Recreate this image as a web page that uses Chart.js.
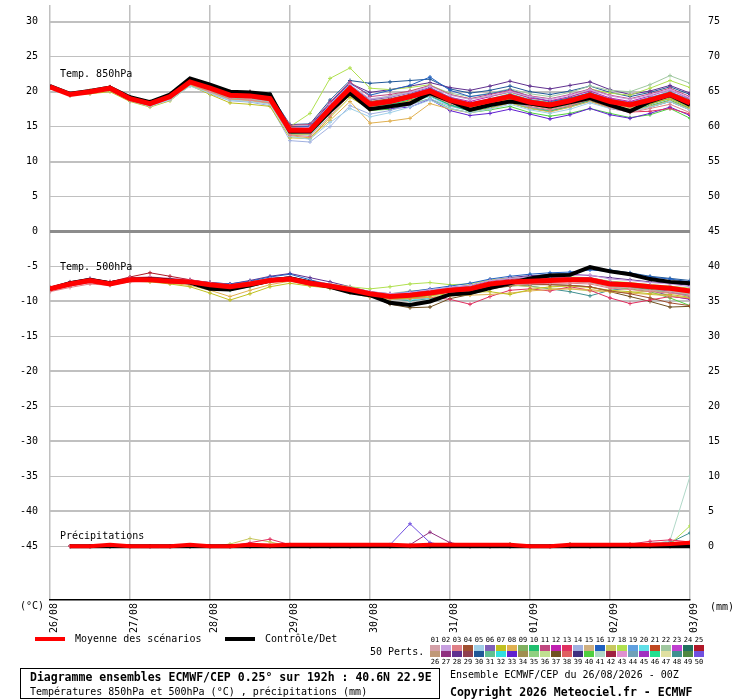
<!DOCTYPE html>
<html>
<head>
<meta charset="utf-8">
<title>Diagramme ensembles ECMWF/CEP</title>
<script src="https://cdn.jsdelivr.net/npm/chart.js@4.4.1/dist/chart.umd.min.js"></script>
<style>
    body { margin: 0; background: #fff; }
    #wrap { position: relative; width: 740px; height: 700px; font-family: "DejaVu Sans Mono", monospace; color: #000; }
    #ens { position: absolute; left: 0; top: 0; }
    .t { position: absolute; white-space: nowrap; font-size: 10px; line-height: 10px; }
    .b { font-weight: bold; font-size: 11.5px; line-height: 12px; }
    .bar { position: absolute; height: 4px; width: 30px; }
    .sw { position: absolute; width: 10px; height: 6px; }
    .num { position: absolute; width: 11px; text-align: center; font-size: 7px; line-height: 7px; }
    #box { position: absolute; left: 20px; top: 668px; width: 418px; height: 29px; border: 1.5px solid #000; }
</style>
</head>
<body>
<div id="wrap">
    <canvas id="ens" width="740" height="634"></canvas>
    <div class="t" style="left:60px;top:69px">Temp. 850hPa</div>
    <div class="t" style="left:60px;top:262px">Temp. 500hPa</div>
    <div class="t" style="left:60px;top:531px">Précipitations</div>
    <div class="t" style="left:20px;top:601px">(°C)</div>
    <div class="t" style="left:710px;top:602px">(mm)</div>

    <div class="bar" style="left:35px;top:637px;background:#ff0000"></div>
    <div class="t" style="left:75px;top:634px">Moyenne des scénarios</div>
    <div class="bar" style="left:225px;top:637px;background:#000"></div>
    <div class="t" style="left:265px;top:634px">Contrôle/Det</div>
    <div class="t" style="left:370px;top:647px">50 Perts.</div>
    <div id="swatches"></div>

    <div id="box"></div>
    <div class="t b" style="left:30px;top:671px">Diagramme ensembles ECMWF/CEP 0.25° sur 192h : 40.6N 22.9E</div>
    <div class="t" style="left:30px;top:687px">Températures 850hPa et 500hPa (°C) , précipitations (mm)</div>
    <div class="t" style="left:450px;top:670px">Ensemble ECMWF/CEP du 26/08/2026 - 00Z</div>
    <div class="t b" style="left:450px;top:686px">Copyright 2026 Meteociel.fr - ECMWF</div>
</div>
<script>
// Time axis (hours from run start) and day labels
const hours = [0, 6, 12, 18, 24, 30, 36, 42, 48, 54, 60, 66, 72, 78, 84, 90, 96, 102, 108, 114, 120, 126, 132, 138, 144, 150, 156, 162, 168, 174, 180, 186, 192];
const dayHours = [0, 24, 48, 72, 96, 120, 144, 168, 192];
const dateLabels = ['26/08', '27/08', '28/08', '29/08', '30/08', '31/08', '01/09', '02/09', '03/09'];
const tempTicks = [30, 25, 20, 15, 10, 5, 0, -5, -10, -15, -20, -25, -30, -35, -40, -45];
const rainTicks = [75, 70, 65, 60, 55, 50, 45, 40, 35, 30, 25, 20, 15, 10, 5, 0];

// Member colours 01..50
const memberColors = [
    '#d4a0a8', '#c8a0e0', '#e08088', '#a05030', '#a0d0e8', '#8060b8', '#c0c020', '#e0b050', '#80b060', '#20c070',
    '#c04880', '#c020b0', '#e03060', '#a0b0e0', '#d0b080', '#2060c0', '#c8c860', '#b0e050', '#60a0e0', '#60e0e8',
    '#c04820', '#a0c8a0', '#c040d0', '#207060', '#b01828', '#c09878', '#903080', '#603090', '#904050', '#205898',
    '#60c090', '#30e0e0', '#6020d0', '#a09050', '#90d080', '#c0e090', '#705020', '#e06060', '#403080', '#50d040',
    '#b0d8c8', '#a02040', '#e090d0', '#70a0b8', '#a030c0', '#20e090', '#e0e0a0', '#409090', '#508840', '#7050e0'
];

// Temp 850hPa (°C)
const t850Mean = [20.7, 19.6, 20.0, 20.5, 19.0, 18.3, 19.3, 21.4, 20.5, 19.5, 19.4, 19.0, 14.5, 14.5, 17.6, 20.5, 18.2, 18.6, 19.3, 20.1, 18.8, 18.1, 18.7, 19.3, 18.5, 18.1, 18.7, 19.5, 18.6, 18.1, 18.8, 19.6, 18.4];
const t850Control = [20.8, 19.7, 20.1, 20.6, 19.2, 18.5, 19.6, 21.9, 21.0, 20.0, 19.9, 19.6, 14.3, 14.3, 17.2, 19.8, 17.5, 17.9, 18.3, 19.8, 18.7, 17.4, 18.1, 18.6, 18.3, 17.9, 18.5, 19.1, 18.1, 17.2, 18.6, 19.5, 18.1];
const t850MemberIds = [1, 2, 3, 4, 5, 6, 7, 8, 9, 10, 11, 12, 13, 14, 15, 16, 17, 18, 19, 20, 21, 22, 23, 24, 25, 28, 30, 33, 40];
const t850Members = [
    [20.6, 19.6, 19.9, 20.4, 18.9, 18.2, 19.1, 21.2, 20.2, 19.2, 19.0, 18.6, 14.2, 14.0, 17.0, 20.0, 18.0, 18.5, 19.2, 20.0, 18.7, 18.0, 18.5, 19.1, 18.2, 17.8, 18.4, 19.2, 18.3, 17.8, 18.5, 19.3, 18.0],
    [20.7, 19.7, 20.1, 20.6, 19.1, 18.4, 19.4, 21.5, 20.7, 19.8, 19.7, 19.3, 14.8, 14.9, 18.2, 21.0, 19.0, 19.3, 19.9, 20.8, 19.5, 18.9, 19.4, 20.0, 19.3, 18.9, 19.5, 20.3, 19.4, 18.9, 19.5, 20.3, 19.1],
    [20.8, 19.6, 20.0, 20.4, 18.8, 18.0, 19.0, 21.1, 20.0, 19.0, 18.8, 18.4, 13.8, 13.6, 16.5, 19.6, 17.4, 17.8, 18.6, 19.5, 18.3, 17.6, 18.1, 18.7, 17.9, 17.4, 18.0, 18.9, 17.8, 17.0, 17.6, 18.2, 17.0],
    [20.6, 19.5, 20.1, 20.7, 19.2, 18.6, 19.6, 21.7, 20.9, 20.0, 20.0, 19.6, 15.0, 14.8, 17.8, 20.8, 18.6, 19.0, 19.6, 20.3, 19.0, 18.3, 18.9, 19.6, 18.8, 18.4, 19.0, 19.8, 18.9, 18.4, 19.1, 19.9, 18.8],
    [20.6, 19.5, 19.8, 20.2, 18.7, 17.9, 18.8, 20.8, 19.8, 18.8, 18.6, 18.2, 13.6, 13.2, 15.6, 17.6, 16.4, 17.0, 17.8, 18.8, 17.6, 17.0, 17.5, 18.2, 17.4, 16.9, 17.5, 18.4, 17.6, 17.1, 17.8, 18.6, 17.4],
    [20.7, 19.6, 20.0, 20.5, 19.0, 18.3, 19.3, 21.4, 20.4, 19.4, 19.2, 18.8, 14.4, 14.6, 18.0, 20.9, 18.8, 19.2, 19.8, 20.6, 19.2, 18.4, 18.9, 19.5, 18.7, 18.2, 18.8, 19.6, 18.5, 17.9, 18.6, 19.4, 18.2],
    [20.6, 19.5, 19.7, 20.0, 18.6, 17.8, 18.7, 20.9, 19.6, 18.4, 18.2, 17.9, 13.4, 13.3, 16.3, 19.2, 17.5, 17.9, 18.7, 19.6, 18.4, 17.8, 18.3, 19.0, 18.2, 17.8, 18.4, 19.2, 18.3, 17.7, 18.3, 19.0, 17.7],
    [20.6, 19.5, 19.8, 20.2, 18.8, 18.1, 19.0, 21.0, 19.9, 18.9, 18.7, 18.3, 13.7, 13.4, 15.9, 18.6, 15.5, 15.8, 16.2, 18.3, 17.5, 17.0, 17.6, 18.4, 17.6, 17.1, 17.8, 18.6, 17.7, 17.2, 17.9, 18.7, 17.5],
    [20.7, 19.6, 20.1, 20.6, 19.1, 18.4, 19.4, 21.5, 20.6, 19.6, 19.5, 19.1, 14.6, 14.4, 17.4, 20.2, 18.3, 18.7, 19.3, 20.0, 18.6, 17.9, 18.4, 19.0, 18.1, 17.6, 18.2, 19.0, 18.0, 17.5, 18.2, 19.1, 17.9],
    [20.7, 19.6, 20.0, 20.4, 18.9, 18.2, 19.2, 21.3, 20.3, 19.3, 19.1, 18.7, 14.2, 14.1, 17.2, 20.3, 17.9, 18.2, 18.8, 19.5, 18.1, 17.2, 17.7, 18.4, 17.6, 17.2, 17.9, 18.8, 17.9, 17.4, 18.0, 18.8, 17.6],
    [20.8, 19.7, 20.1, 20.5, 19.0, 18.4, 19.4, 21.5, 20.8, 19.9, 19.9, 19.5, 15.2, 15.3, 18.5, 21.4, 19.3, 19.6, 20.1, 20.9, 19.6, 19.0, 19.6, 20.2, 19.4, 19.0, 19.6, 20.4, 19.5, 19.0, 19.7, 20.5, 19.3],
    [20.7, 19.6, 20.0, 20.6, 19.1, 18.5, 19.5, 21.6, 20.6, 19.7, 19.6, 19.2, 14.7, 14.7, 17.9, 20.7, 18.5, 18.9, 19.6, 20.5, 19.2, 18.6, 19.3, 20.0, 19.1, 18.7, 19.3, 20.1, 19.1, 18.6, 19.4, 20.3, 19.0],
    [20.7, 19.6, 19.9, 20.3, 18.9, 18.2, 19.2, 21.2, 20.3, 19.3, 19.2, 18.8, 14.3, 14.2, 17.3, 20.1, 17.9, 18.3, 19.0, 19.7, 18.4, 17.7, 18.3, 18.9, 18.1, 17.6, 18.2, 18.8, 17.6, 17.1, 17.2, 17.6, 16.8],
    [20.6, 19.5, 19.8, 20.2, 18.7, 18.0, 18.9, 20.9, 19.7, 18.7, 18.5, 18.0, 13.0, 12.8, 15.0, 18.0, 16.8, 17.3, 18.1, 19.0, 17.9, 17.3, 17.9, 18.6, 17.8, 17.4, 18.0, 18.9, 18.0, 17.5, 18.2, 19.0, 17.8],
    [20.6, 19.6, 20.0, 20.5, 19.0, 18.3, 19.2, 21.3, 20.4, 19.4, 19.3, 18.9, 14.4, 14.3, 17.5, 20.4, 18.1, 18.5, 19.2, 20.0, 18.8, 18.2, 18.7, 19.3, 18.5, 18.1, 18.6, 19.4, 18.5, 18.0, 18.7, 19.5, 18.4],
    [20.8, 19.7, 20.1, 20.6, 19.2, 18.5, 19.5, 21.6, 20.7, 19.8, 19.7, 19.4, 15.0, 15.1, 18.3, 21.2, 19.5, 20.2, 20.9, 22.1, 20.2, 19.3, 19.7, 20.3, 19.3, 18.6, 19.1, 19.8, 18.8, 18.2, 18.9, 19.7, 18.5],
    [20.6, 19.5, 19.9, 20.3, 18.8, 18.1, 19.0, 21.0, 19.9, 18.9, 18.8, 18.4, 13.9, 13.9, 16.9, 19.8, 17.7, 18.1, 18.8, 19.6, 18.4, 17.8, 18.4, 19.1, 18.3, 17.9, 18.6, 19.4, 18.5, 18.1, 18.8, 19.7, 18.5],
    [20.8, 19.7, 20.2, 20.6, 19.2, 18.5, 19.5, 21.6, 20.8, 19.9, 19.8, 19.4, 15.0, 16.9, 21.9, 23.4, 20.5, 20.3, 20.6, 21.0, 19.6, 19.0, 19.3, 19.9, 19.1, 18.6, 19.2, 20.4, 19.8, 19.5, 20.5, 21.6, 20.6],
    [20.7, 19.6, 20.0, 20.5, 19.0, 18.3, 19.3, 21.4, 20.5, 19.5, 19.4, 19.0, 14.6, 14.6, 17.8, 20.6, 18.4, 18.8, 19.5, 20.3, 19.0, 18.4, 19.0, 19.7, 18.9, 18.5, 19.1, 19.9, 19.0, 18.5, 19.2, 20.0, 18.9],
    [20.6, 19.5, 19.8, 20.3, 18.8, 18.1, 19.1, 21.1, 20.0, 19.0, 18.9, 18.5, 13.9, 13.8, 16.8, 19.5, 17.6, 18.0, 18.6, 19.3, 18.0, 17.4, 17.9, 18.5, 17.6, 17.2, 17.8, 18.6, 17.7, 17.2, 17.9, 18.7, 17.6],
    [20.7, 19.6, 20.0, 20.5, 19.0, 18.3, 19.3, 21.4, 20.6, 19.7, 19.6, 19.2, 14.7, 14.6, 17.7, 20.6, 18.3, 18.6, 19.2, 20.0, 18.7, 18.0, 18.6, 19.2, 18.4, 18.0, 18.6, 19.4, 18.5, 18.0, 18.6, 19.4, 18.2],
    [20.7, 19.6, 20.0, 20.5, 19.0, 18.3, 19.3, 21.4, 20.5, 19.6, 19.5, 19.1, 14.7, 14.8, 18.0, 20.9, 18.9, 19.4, 20.0, 20.9, 19.8, 19.3, 19.8, 20.4, 19.7, 19.3, 19.9, 20.8, 20.2, 20.0, 21.0, 22.3, 21.2],
    [20.7, 19.6, 20.0, 20.5, 19.0, 18.3, 19.3, 21.4, 20.4, 19.5, 19.3, 18.9, 14.5, 14.4, 17.6, 20.5, 18.5, 18.9, 19.5, 20.2, 18.9, 18.3, 18.9, 19.5, 18.7, 18.3, 18.9, 19.7, 18.8, 18.3, 19.0, 19.8, 18.6],
    [20.6, 19.6, 20.0, 20.4, 18.9, 18.2, 19.2, 21.3, 20.3, 19.3, 19.1, 18.7, 14.1, 14.1, 17.1, 19.9, 17.7, 18.0, 18.7, 19.4, 18.1, 17.4, 18.0, 18.6, 17.8, 17.3, 17.9, 18.7, 17.7, 17.2, 17.8, 18.6, 17.4],
    [20.7, 19.6, 20.0, 20.6, 19.1, 18.4, 19.4, 21.5, 20.6, 19.6, 19.5, 19.1, 14.6, 14.5, 17.6, 20.4, 18.2, 18.6, 19.3, 20.1, 18.8, 18.1, 18.7, 19.3, 18.5, 18.1, 18.7, 19.5, 18.6, 18.1, 18.8, 19.6, 18.4],
    [20.7, 19.7, 20.1, 20.6, 19.1, 18.4, 19.4, 21.5, 20.7, 19.8, 19.7, 19.3, 14.9, 15.0, 18.4, 21.2, 19.9, 20.3, 20.8, 21.3, 20.6, 20.2, 20.8, 21.5, 20.8, 20.4, 20.9, 21.4, 20.3, 19.6, 20.1, 20.9, 19.8],
    [20.8, 19.7, 20.1, 20.6, 19.1, 18.4, 19.4, 21.5, 20.8, 20.0, 20.0, 19.7, 15.3, 15.4, 18.8, 21.6, 21.2, 21.4, 21.6, 21.8, 20.4, 19.8, 20.2, 20.8, 20.0, 19.6, 20.1, 20.8, 19.9, 19.3, 19.9, 20.7, 19.6],
    [20.7, 19.6, 20.0, 20.4, 18.9, 18.2, 19.2, 21.3, 20.3, 19.3, 19.1, 18.7, 14.2, 14.2, 17.3, 20.0, 17.5, 17.6, 17.8, 18.9, 17.3, 16.6, 16.9, 17.5, 16.8, 16.1, 16.7, 17.6, 16.7, 16.2, 16.9, 17.8, 16.6],
    [20.6, 19.5, 19.9, 20.3, 18.8, 18.1, 19.1, 21.1, 20.1, 19.1, 18.9, 18.5, 14.0, 13.9, 17.0, 19.7, 17.3, 17.5, 18.2, 19.0, 17.6, 17.0, 17.4, 17.9, 17.0, 16.5, 16.9, 17.6, 16.9, 16.3, 16.7, 17.6, 16.2]
];

// Temp 500hPa (°C)
const t500Mean = [-8.2, -7.5, -7.0, -7.5, -6.9, -6.9, -7.1, -7.2, -7.6, -7.9, -7.5, -7.0, -6.8, -7.4, -7.8, -8.3, -8.9, -9.3, -9.1, -8.8, -8.4, -8.2, -7.5, -7.2, -7.1, -7.0, -6.9, -6.9, -7.5, -7.6, -7.9, -8.1, -8.5];
const t500Control = [-8.2, -7.4, -6.9, -7.4, -6.9, -6.8, -7.0, -7.3, -8.2, -8.3, -7.7, -7.0, -6.7, -7.3, -7.9, -8.7, -9.1, -10.2, -10.5, -10.0, -9.0, -8.8, -8.1, -7.4, -6.7, -6.3, -6.2, -5.1, -5.7, -6.1, -6.8, -7.2, -7.4];
const t500MemberIds = [1, 2, 3, 4, 5, 6, 7, 8, 9, 10, 11, 12, 13, 14, 15, 16, 17, 18, 19, 20, 22, 25, 28, 30, 33, 37, 40, 48];
const t500Members = [
    [-8.3, -7.6, -7.1, -7.6, -7.0, -7.0, -7.2, -7.4, -7.8, -8.1, -7.6, -7.1, -6.9, -7.5, -7.9, -8.5, -9.2, -9.4, -9.2, -8.9, -8.5, -8.3, -7.7, -7.4, -7.3, -7.2, -7.2, -7.3, -7.9, -8.1, -8.4, -8.6, -9.0],
    [-8.1, -7.3, -6.8, -7.3, -6.7, -6.6, -6.9, -7.0, -7.4, -7.7, -7.3, -6.8, -6.5, -7.1, -7.5, -8.0, -8.6, -8.9, -8.7, -8.3, -8.0, -7.7, -7.0, -6.7, -6.5, -6.4, -6.3, -6.2, -6.8, -7.0, -7.3, -7.5, -7.9],
    [-8.6, -8.0, -7.5, -7.7, -7.2, -7.0, -7.3, -7.5, -7.9, -8.2, -7.8, -7.2, -7.0, -7.6, -8.0, -8.4, -9.1, -9.5, -9.3, -9.0, -8.7, -8.5, -7.9, -7.6, -7.5, -7.4, -7.4, -7.5, -8.1, -8.3, -8.6, -8.8, -9.2],
    [-8.2, -7.5, -7.0, -7.5, -6.9, -6.9, -7.1, -7.2, -7.6, -7.9, -7.5, -7.0, -6.8, -7.4, -7.8, -8.3, -9.0, -9.3, -9.2, -8.9, -8.5, -8.3, -7.7, -7.5, -7.5, -7.6, -7.7, -7.9, -8.5, -8.9, -9.5, -10.2, -10.6],
    [-8.2, -7.4, -6.9, -7.3, -6.8, -6.8, -7.0, -7.1, -7.5, -7.8, -7.4, -6.9, -6.7, -7.3, -7.7, -8.2, -8.9, -9.2, -9.0, -8.6, -8.2, -8.0, -7.3, -7.0, -6.9, -6.8, -6.7, -6.7, -7.3, -7.4, -7.7, -7.9, -8.3],
    [-8.1, -7.4, -6.9, -7.4, -6.8, -6.8, -7.0, -7.1, -7.5, -7.7, -7.3, -6.7, -6.5, -7.2, -7.7, -8.4, -9.1, -9.5, -9.3, -9.0, -8.4, -8.1, -7.5, -7.1, -7.0, -6.9, -6.7, -6.8, -7.4, -7.6, -8.0, -8.6, -9.3],
    [-8.2, -7.5, -7.0, -7.6, -7.1, -7.2, -7.5, -7.9, -8.8, -9.8, -8.9, -7.9, -7.4, -7.8, -8.1, -8.6, -9.2, -9.6, -9.5, -9.2, -8.9, -8.7, -8.6, -9.0, -8.3, -7.9, -7.8, -8.0, -8.4, -8.6, -8.9, -9.0, -9.4],
    [-8.3, -7.6, -7.1, -7.5, -7.0, -7.1, -7.4, -7.7, -8.4, -9.3, -8.4, -7.6, -7.1, -7.7, -8.1, -8.8, -9.4, -9.7, -9.6, -9.4, -9.2, -9.1, -9.0, -8.8, -8.5, -8.3, -8.2, -8.3, -8.6, -8.8, -9.0, -9.2, -9.5],
    [-8.0, -7.3, -6.9, -7.4, -6.9, -6.8, -7.0, -7.1, -7.5, -7.8, -7.4, -6.9, -6.6, -7.2, -7.6, -8.1, -8.8, -9.1, -8.9, -8.6, -8.2, -7.9, -7.3, -7.0, -6.9, -6.8, -6.8, -6.9, -7.4, -7.6, -7.9, -8.1, -8.4],
    [-8.3, -7.5, -7.0, -7.6, -7.1, -7.1, -7.3, -7.5, -7.9, -8.4, -7.9, -7.2, -7.0, -7.6, -8.1, -8.5, -9.2, -9.5, -9.4, -9.1, -8.6, -8.5, -7.9, -7.5, -7.3, -7.1, -7.1, -7.0, -7.6, -7.9, -8.3, -8.7, -9.1],
    [-8.2, -7.4, -6.8, -7.2, -6.6, -6.5, -6.7, -6.9, -7.3, -7.6, -7.2, -6.7, -6.5, -7.1, -7.6, -8.2, -8.8, -9.0, -8.8, -8.5, -8.1, -7.8, -7.1, -6.8, -6.7, -6.6, -6.6, -6.7, -7.3, -7.5, -7.8, -8.0, -8.3],
    [-8.2, -7.5, -7.0, -7.5, -6.9, -6.8, -7.0, -7.2, -7.6, -7.9, -7.5, -7.0, -6.7, -7.3, -7.7, -8.1, -8.7, -9.0, -8.8, -8.5, -8.2, -8.0, -7.4, -7.0, -6.8, -6.7, -6.6, -6.6, -7.2, -7.4, -7.7, -8.0, -8.4],
    [-8.4, -7.8, -7.3, -7.6, -7.0, -6.9, -7.1, -7.3, -7.8, -8.1, -7.6, -7.1, -6.9, -7.5, -8.0, -8.6, -9.3, -9.6, -9.6, -9.4, -9.7, -10.4, -9.3, -8.4, -8.2, -8.5, -7.9, -8.4, -9.5, -10.3, -9.8, -9.3, -9.6],
    [-8.2, -7.5, -7.0, -7.5, -6.9, -6.9, -7.1, -7.2, -7.6, -7.9, -7.5, -7.0, -6.8, -7.4, -7.8, -8.3, -8.9, -9.2, -9.0, -8.7, -8.3, -8.1, -7.4, -7.1, -7.0, -6.9, -6.9, -7.0, -7.6, -7.7, -8.0, -8.2, -8.6],
    [-8.1, -7.4, -6.9, -7.4, -6.8, -6.8, -7.0, -7.1, -7.5, -7.8, -7.4, -6.9, -6.7, -7.3, -7.7, -8.2, -9.0, -9.3, -9.2, -8.9, -8.5, -8.3, -7.6, -7.3, -7.2, -7.1, -7.1, -7.3, -7.9, -8.0, -8.3, -8.5, -8.8],
    [-8.2, -7.4, -6.9, -7.4, -6.8, -6.8, -6.9, -7.0, -7.3, -7.5, -7.1, -6.5, -6.1, -6.9, -7.6, -8.2, -8.9, -9.0, -8.6, -8.2, -7.8, -7.4, -6.8, -6.4, -6.1, -5.9, -5.8, -5.5, -5.7, -6.0, -6.5, -6.8, -7.2],
    [-8.2, -7.5, -7.0, -7.5, -7.0, -7.0, -7.2, -7.4, -7.9, -8.3, -7.8, -7.2, -6.9, -7.5, -7.9, -8.3, -8.9, -9.1, -8.9, -8.5, -8.2, -8.1, -7.7, -7.6, -7.9, -8.1, -8.2, -8.5, -8.6, -8.7, -8.5, -8.7, -9.0],
    [-8.1, -7.4, -6.9, -7.3, -6.8, -6.8, -7.0, -7.1, -7.4, -7.6, -7.2, -6.8, -6.6, -7.2, -7.5, -7.9, -8.2, -7.9, -7.5, -7.3, -7.6, -7.5, -6.9, -6.7, -6.6, -6.5, -6.5, -6.6, -7.1, -7.3, -7.6, -7.8, -8.1],
    [-8.2, -7.5, -7.0, -7.5, -7.0, -6.9, -7.1, -7.2, -7.6, -7.8, -7.4, -6.9, -6.7, -7.3, -7.7, -8.2, -8.9, -9.2, -9.1, -8.8, -8.4, -8.2, -7.5, -7.2, -7.0, -6.9, -6.8, -6.8, -7.4, -7.5, -7.8, -8.0, -8.4],
    [-8.3, -7.6, -7.1, -7.7, -7.1, -7.0, -7.2, -7.3, -7.8, -8.0, -7.6, -7.1, -6.9, -7.5, -7.9, -8.4, -9.1, -9.6, -9.8, -9.5, -9.0, -8.6, -7.9, -7.4, -7.2, -7.1, -7.0, -7.1, -7.7, -7.9, -8.2, -8.5, -8.9],
    [-8.1, -7.4, -6.9, -7.3, -6.8, -6.7, -6.9, -7.0, -7.4, -7.7, -7.3, -6.8, -6.6, -7.2, -7.6, -8.1, -8.7, -8.9, -8.5, -8.3, -8.2, -7.9, -7.3, -7.1, -7.0, -7.0, -7.0, -7.1, -7.6, -7.8, -8.1, -8.3, -8.6],
    [-8.2, -7.3, -6.8, -7.2, -6.5, -5.9, -6.4, -6.9, -7.4, -7.7, -7.3, -6.9, -6.7, -7.3, -7.7, -8.2, -8.8, -9.1, -8.9, -8.6, -8.2, -8.0, -7.4, -7.1, -7.0, -6.9, -6.8, -6.9, -7.4, -7.6, -7.9, -8.2, -8.6],
    [-8.0, -7.2, -6.7, -7.2, -6.7, -6.7, -6.9, -7.0, -7.3, -7.5, -7.0, -6.4, -6.0, -6.6, -7.2, -7.9, -8.6, -8.9, -8.7, -8.4, -8.0, -7.7, -7.0, -6.6, -6.3, -6.2, -6.1, -6.3, -6.6, -6.9, -7.2, -7.4, -7.7],
    [-8.3, -7.5, -7.0, -7.5, -6.9, -6.9, -7.1, -7.2, -7.6, -7.9, -7.5, -7.0, -6.8, -7.4, -7.8, -8.3, -9.0, -9.6, -9.6, -9.1, -8.6, -8.2, -7.4, -6.9, -6.4, -6.1, -6.0, -5.2, -5.5, -5.9, -6.4, -6.7, -7.0],
    [-8.2, -7.5, -7.0, -7.4, -6.9, -6.8, -7.0, -7.2, -7.6, -7.9, -7.4, -6.9, -6.7, -7.4, -7.9, -8.5, -9.2, -9.5, -9.3, -9.0, -8.6, -8.3, -7.6, -7.3, -7.2, -7.1, -7.0, -7.1, -7.7, -8.0, -8.4, -9.2, -9.7],
    [-8.2, -7.5, -7.0, -7.5, -7.0, -6.9, -7.1, -7.3, -7.7, -8.0, -7.6, -7.1, -6.9, -7.5, -7.9, -8.4, -9.2, -10.4, -10.9, -10.8, -9.6, -9.0, -8.2, -7.8, -7.6, -7.6, -7.7, -7.9, -8.6, -9.3, -10.0, -10.8, -10.7],
    [-8.2, -7.5, -7.0, -7.5, -7.0, -6.9, -7.1, -7.2, -7.6, -7.9, -7.5, -7.0, -6.8, -7.4, -7.8, -8.3, -9.0, -9.4, -9.3, -9.0, -8.6, -8.3, -7.5, -7.2, -7.1, -7.1, -7.1, -7.3, -7.9, -8.2, -8.6, -9.5, -10.6],
    [-8.3, -7.5, -7.0, -7.5, -6.9, -6.9, -7.1, -7.2, -7.6, -7.9, -7.5, -7.0, -6.8, -7.4, -7.8, -8.3, -9.1, -9.6, -9.9, -9.6, -9.1, -8.7, -8.0, -7.7, -7.8, -8.2, -8.6, -9.2, -8.4, -8.1, -8.3, -8.5, -8.8]
];

// Precipitation (mm per 6h), nothing at 0h
const rainMean = [null, 0, 0, 0.2, 0, 0, 0, 0.2, 0, 0, 0.2, 0.1, 0.2, 0.2, 0.2, 0.2, 0.2, 0.2, 0.1, 0.2, 0.2, 0.2, 0.2, 0.2, 0, 0, 0.2, 0.2, 0.2, 0.2, 0.2, 0.3, 0.5];
const rainControl = [null, 0, 0, 0, 0, 0, 0, 0, 0, 0, 0, 0, 0, 0, 0, 0, 0, 0, 0, 0, 0, 0, 0, 0, 0, 0, 0, 0, 0, 0, 0, 0, 0];
const rainMemberIds = [13, 17, 50, 27, 41, 18, 48, 19, 37];
const rainMembers = [
    [null, 0, 0, 0, 0, 0, 0, 0, 0, 0, 0.5, 1.0, 0.2, 0, 0, 0, 0, 0, 0, 0, 0, 0, 0, 0, 0, 0, 0, 0, 0, 0.3, 0.7, 0.9, 0.6],
    [null, 0, 0, 0, 0, 0, 0, 0, 0, 0.3, 1.1, 0.6, 0, 0, 0, 0, 0, 0, 0, 0, 0, 0, 0, 0, 0, 0, 0, 0, 0, 0, 0, 0, 0],
    [null, 0, 0, 0, 0, 0, 0, 0, 0, 0, 0, 0, 0, 0, 0, 0, 0, 0.2, 3.2, 0.5, 0, 0, 0, 0, 0, 0, 0, 0, 0, 0, 0, 0, 0],
    [null, 0, 0, 0, 0, 0, 0, 0, 0, 0, 0, 0, 0, 0, 0, 0, 0, 0, 0.2, 2.0, 0.5, 0, 0, 0, 0, 0, 0, 0, 0, 0, 0, 0, 0],
    [null, 0, 0, 0, 0, 0, 0, 0, 0, 0, 0, 0, 0, 0, 0, 0, 0, 0, 0, 0, 0, 0, 0, 0, 0, 0, 0, 0, 0, 0, 0.2, 0.8, 10.0],
    [null, 0, 0, 0, 0, 0, 0, 0, 0, 0, 0, 0, 0, 0, 0, 0, 0, 0, 0, 0, 0, 0, 0, 0, 0, 0, 0, 0, 0, 0, 0, 0.3, 2.9],
    [null, 0, 0, 0, 0, 0, 0, 0, 0, 0, 0, 0, 0, 0, 0, 0, 0, 0, 0, 0, 0, 0, 0, 0, 0, 0, 0, 0, 0, 0, 0, 0.5, 1.9],
    [null, 0, 0, 0, 0, 0, 0, 0, 0, 0, 0, 0, 0, 0, 0, 0, 0, 0, 0, 0, 0, 0, 0, 0, 0, 0, 0, 0, 0, 0, 0.4, 0.6, 0.3],
    [null, 0, 0, 0, 0, 0, 0, 0, 0, 0, 0, 0, 0, 0, 0, 0, 0, 0, 0, 0, 0, 0, 0, 0.3, 0, 0, 0.3, 0, 0, 0, 0, 0, 0]
];

// Colour swatches under the legend (01-25 above, 26-50 below)
const swatchBox = document.getElementById('swatches');
for (let i = 0; i < 25; i++) {
    const left = 430 + i * 11;
    const top = document.createElement('div');
    top.className = 'num';
    top.style.left = (left - 0.5) + 'px';
    top.style.top = '637px';
    top.textContent = String(i + 1).padStart(2, '0');
    swatchBox.appendChild(top);
    const bottom = document.createElement('div');
    bottom.className = 'num';
    bottom.style.left = (left - 0.5) + 'px';
    bottom.style.top = '659px';
    bottom.textContent = String(i + 26);
    swatchBox.appendChild(bottom);
    [i, i + 25].forEach((m, row) => {
        const sw = document.createElement('div');
        sw.className = 'sw';
        sw.style.left = left + 'px';
        sw.style.top = (645 + row * 6) + 'px';
        sw.style.background = memberColors[m];
        swatchBox.appendChild(sw);
    });
}

// Build the datasets
function memberSet(values, id, axis) {
    const c = memberColors[id - 1];
    return {
        data: values,
        yAxisID: axis,
        borderColor: c,
        backgroundColor: c,
        borderWidth: 1,
        pointStyle: 'cross',
        pointRadius: 2,
        pointBorderWidth: 1,
        order: 2
    };
}
function mainSet(values, color, width, axis, order) {
    return {
        data: values,
        yAxisID: axis,
        borderColor: color,
        borderWidth: width,
        pointRadius: 0,
        order: order
    };
}

const datasets = [
    mainSet(t850Mean, '#ff0000', 5, 'y', 0),
    mainSet(t850Control, '#000000', 4, 'y', 1),
    mainSet(t500Mean, '#ff0000', 5, 'y', 0),
    mainSet(t500Control, '#000000', 4, 'y', 1),
    mainSet(rainMean, '#ff0000', 4, 'y2', 0),
    mainSet(rainControl, '#000000', 4, 'y2', 1)
];
t850Members.forEach((v, i) => datasets.push(memberSet(v, t850MemberIds[i], 'y')));
t500Members.forEach((v, i) => datasets.push(memberSet(v, t500MemberIds[i], 'y')));
rainMembers.forEach((v, i) => datasets.push(memberSet(v, rainMemberIds[i], 'y2')));

Chart.defaults.font.family = "'DejaVu Sans Mono', monospace";
Chart.defaults.font.size = 10;
Chart.defaults.color = '#000';

// fixed axis boxes so the plot sits at 50..690
function fixVertical(s) {
    s.width = 50;
    s.paddingTop = 0;
    s.paddingBottom = 0;
}

new Chart(document.getElementById('ens'), {
    type: 'line',
    data: { labels: hours, datasets: datasets },
    options: {
        responsive: false,
        animation: false,
        events: [],
        layout: { padding: 0 },
        elements: { line: { tension: 0 } },
        plugins: { legend: { display: false }, tooltip: { enabled: false } },
        scales: {
            x: {
                type: 'linear',
                min: 0,
                max: 192,
                afterBuildTicks: s => { s.ticks = dayHours.map(v => ({ value: v })); },
                afterFit: s => { s.height = 34; s.paddingLeft = 0; s.paddingRight = 0; },
                ticks: {
                    autoSkip: false,
                    minRotation: 90,
                    maxRotation: 90,
                    padding: 3,
                    labelOffset: 4,
                    callback: v => dateLabels[dayHours.indexOf(v)]
                },
                grid: { color: '#c0c0c0', lineWidth: 1.5, drawTicks: false },
                border: { color: '#000', width: 1.5 }
            },
            y: {
                position: 'left',
                min: -52.7,
                max: 32.4,
                afterBuildTicks: s => { s.ticks = tempTicks.map(v => ({ value: v })); },
                afterFit: fixVertical,
                ticks: { padding: 12, callback: v => v },
                grid: {
                    drawTicks: false,
                    color: c => (c.tick && c.tick.value === 0) ? '#8c8c8c' : '#c0c0c0',
                    lineWidth: c => {
                        const v = c.tick ? c.tick.value : 5;
                        if (v === 0) return 3;
                        return v % 10 === 0 ? 2 : 1;
                    }
                },
                border: { display: false }
            },
            y2: {
                position: 'right',
                min: -7.7,
                max: 77.4,
                afterBuildTicks: s => { s.ticks = rainTicks.map(v => ({ value: v })); },
                afterFit: fixVertical,
                ticks: { padding: 10, callback: v => v },
                grid: { display: false },
                border: { display: false }
            }
        }
    }
});
</script>
</body>
</html>
